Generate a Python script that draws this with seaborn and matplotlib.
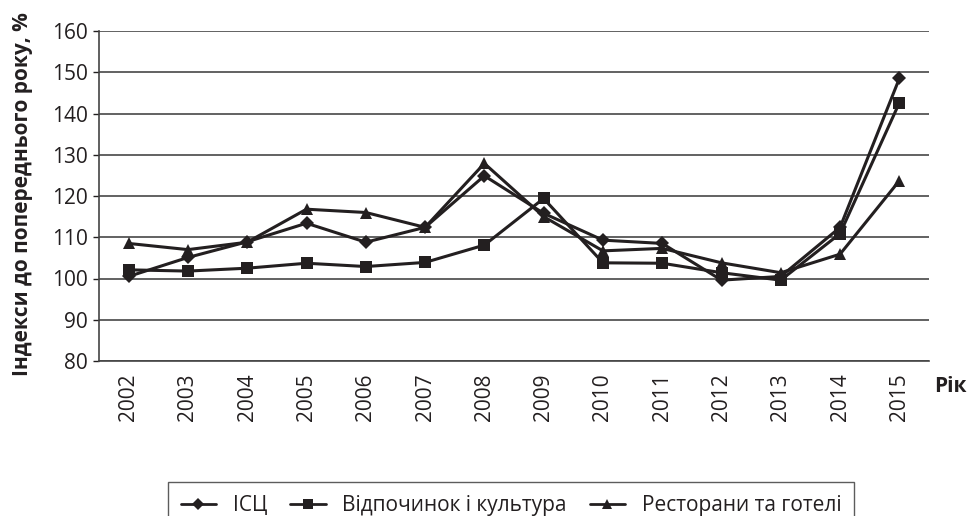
import matplotlib
matplotlib.use("Agg")
import matplotlib.pyplot as plt
import seaborn as sns
import pandas as pd
import numpy as np

years = [2002, 2003, 2004, 2005, 2006, 2007, 2008, 2009, 2010, 2011, 2012, 2013, 2014, 2015]
isc = [100.5, 105.1, 108.9, 113.4, 108.8, 112.4, 124.9, 115.8, 109.3, 108.5, 99.6, 100.5, 112.4, 148.5]
rest_culture = [102.1, 101.8, 102.5, 103.7, 102.9, 103.9, 108.1, 119.4, 103.8, 103.7, 101.4, 99.6, 110.9, 142.6]
restaurants = [108.5, 107.0, 108.8, 116.8, 116.0, 112.4, 127.9, 115.0, 106.7, 107.3, 103.8, 101.4, 105.9, 123.7]
series_names = ["ІСЦ", "Відпочинок і культура", "Ресторани та готелі"]
y_ticks = [80, 90, 100, 110, 120, 130, 140, 150, 160]

sns.set_theme(style="white")
plt.rcParams['font.family'] = ['Open Sans', 'DejaVu Sans']

df = pd.DataFrame({"year": years * 3,
                   "value": isc + rest_culture + restaurants,
                   "series": [series_names[0]] * len(years) + [series_names[1]] * len(years) + [series_names[2]] * len(years)})

fig = plt.figure(figsize=(9.67, 5.16), dpi=100)
ax = fig.add_axes([99 / 967, 1 - 361 / 516, 830 / 967, 330 / 516])

col = "#231f20"
FS = 15
markers = {series_names[0]: "D", series_names[1]: "s", series_names[2]: "^"}
msizes = {series_names[0]: 7, series_names[1]: 8.5, series_names[2]: 9}
handles = []
for name in series_names:
    sub = df[df["series"] == name]
    sns.lineplot(data=sub, x="year", y="value", ax=ax, color=col, lw=2.2,
                 marker=markers[name], markersize=msizes[name], markeredgewidth=0,
                 markerfacecolor=col, label=name, legend=False)
    handles.append(plt.Line2D([], [], color=col, lw=2.0, marker=markers[name],
                              markersize=msizes[name] * 0.85, markeredgewidth=0))

ax.set_xlim(years[0] - 0.5, years[-1] + 0.5)
ax.set_ylim(80, 160)
ax.set_yticks(y_ticks)
ax.set_xticks(years)
ax.set_xticklabels([str(y) for y in years], rotation=90, fontsize=FS, color=col)
ax.tick_params(axis="y", labelsize=FS, colors=col, length=4, width=1, direction="out", left=True, pad=4)
ax.tick_params(axis="x", length=0, pad=9)
for lbl in ax.get_yticklabels():
    lbl.set_color(col)
ax.yaxis.grid(True, color="#555555", lw=1.3)
ax.xaxis.grid(False)
ax.set_axisbelow(True)
for s in ["top", "right"]:
    ax.spines[s].set_visible(False)
for s in ["left", "bottom"]:
    ax.spines[s].set_visible(True)
    ax.spines[s].set_color("#444444")
    ax.spines[s].set_linewidth(1.2)

ax.set_xlabel("")
ax.set_ylabel("Індекси до попереднього року, %", fontsize=FS, fontweight="bold", color=col)
ax.yaxis.set_label_coords((33 - 99) / 830, 0.505)
fig.text(934 / 967, 1 - 386 / 516, "Рік", fontsize=FS, fontweight="bold", color=col, va="center", ha="left")

leg = fig.legend(handles, series_names, loc="upper center", bbox_to_anchor=(511 / 967, 1 - 472 / 516),
                 ncol=3, frameon=True, fancybox=False, edgecolor="#333333", fontsize=FS,
                 handlelength=1.7, handletextpad=0.8, columnspacing=1.1, borderpad=0.6)
leg.get_frame().set_linewidth(1.0)
for t in leg.get_texts():
    t.set_color(col)

fig.savefig("out.png", dpi=100)
